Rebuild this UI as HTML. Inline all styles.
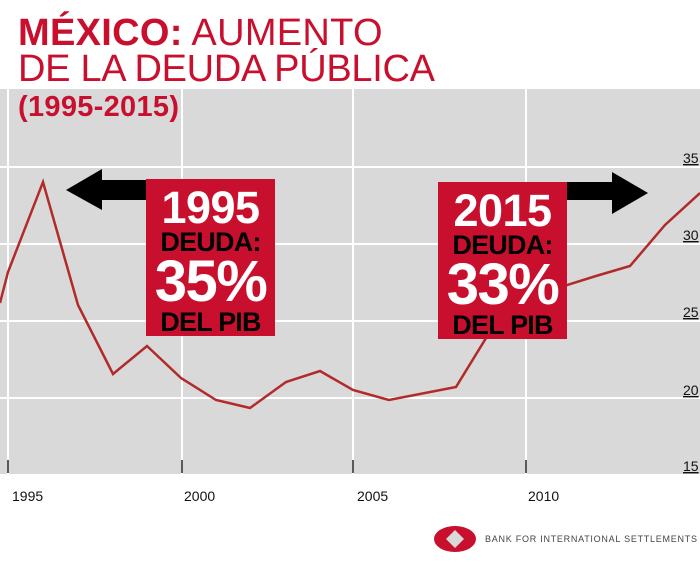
<!DOCTYPE html>
<html><head><meta charset="utf-8"><style>
body{margin:0;width:700px;height:573px;background:#fff;overflow:hidden;position:relative;font-family:"Liberation Sans",sans-serif}
.t{position:absolute;left:18px;color:#c8102e;white-space:nowrap}
.box{position:absolute;background:#c8102e;text-align:center;font-weight:bold;line-height:1}
</style></head><body>
<svg width="700" height="573" style="position:absolute;left:0;top:0">
<rect x="0" y="89" width="700" height="385" fill="#d9d9d9"/>
<g stroke="#fff" stroke-width="2">
<line x1="0" y1="167" x2="700" y2="167"/><line x1="0" y1="244" x2="700" y2="244"/>
<line x1="0" y1="321" x2="700" y2="321"/><line x1="0" y1="398" x2="700" y2="398"/>
<line x1="8" y1="89" x2="8" y2="474"/><line x1="182" y1="89" x2="182" y2="474"/>
<line x1="353" y1="89" x2="353" y2="474"/><line x1="526" y1="89" x2="526" y2="474"/>
</g>
<g stroke="#222" stroke-width="1.5">
<line x1="8" y1="460" x2="8" y2="473"/><line x1="182" y1="460" x2="182" y2="473"/>
<line x1="353" y1="460" x2="353" y2="473"/><line x1="526" y1="460" x2="526" y2="473"/>
</g>
<polyline fill="none" stroke="#b22a2a" stroke-width="2.5" points="0,303 8,272 43,182 78,305 113,374 147,346 181,378 216,400 250,408 286,382 320,371 353,390 389,400 456,387 491,330 526,300 567,285 596,276 630,266 665,225 700,193"/>
<polygon points="66,190 102,169 102,180 146,180 146,200 102,200 102,210" fill="#000"/>
<polygon points="648,193 612,172 612,182 567,182 567,200 612,200 612,214" fill="#000"/>
<g font-size="14" fill="#111" font-family="Liberation Sans, sans-serif">
<text x="12" y="501">1995</text><text x="184" y="501">2000</text><text x="357" y="501">2005</text><text x="528" y="501">2010</text>
<g text-decoration="underline"><text x="683" y="163">35</text><text x="683" y="240">30</text><text x="683" y="317">25</text><text x="683" y="395">20</text><text x="683" y="471">15</text></g>
</g>
<ellipse cx="455" cy="539" rx="21" ry="13" fill="#c8102e"/>
<polygon points="455,530 464,539 455,548 446,539" fill="#d9d9d9"/>
<text x="485" y="542" font-size="9" fill="#444" textLength="212" lengthAdjust="spacing">BANK FOR INTERNATIONAL SETTLEMENTS</text>
</svg>
<div class="t" style="top:12px;font-size:38px;letter-spacing:0.3px"><b>MÉXICO:</b> AUMENTO</div>
<div class="t" style="top:48px;font-size:38px;letter-spacing:-0.3px">DE LA DEUDA PÚBLICA</div>
<div class="t" style="top:91px;font-size:29px;font-weight:bold;letter-spacing:0.3px">(1995-2015)</div>
<div class="box" style="left:146px;top:179px;width:129px;height:157px">
<div style="color:#fff;font-size:45px;margin-top:6px;letter-spacing:-0.5px">1995</div>
<div style="color:#000;font-size:27px;margin-top:-1px;letter-spacing:-0.8px">DEUDA:</div>
<div style="color:#fff;font-size:58px;margin-top:-3px;letter-spacing:-1.5px">35%</div>
<div style="color:#000;font-size:27px;margin-top:-2px;letter-spacing:-0.8px">DEL PIB</div>
</div>
<div class="box" style="left:438px;top:182px;width:129px;height:157px">
<div style="color:#fff;font-size:45px;margin-top:6px;letter-spacing:-0.5px">2015</div>
<div style="color:#000;font-size:27px;margin-top:-1px;letter-spacing:-0.8px">DEUDA:</div>
<div style="color:#fff;font-size:58px;margin-top:-3px;letter-spacing:-1.5px">33%</div>
<div style="color:#000;font-size:27px;margin-top:-2px;letter-spacing:-0.8px">DEL PIB</div>
</div>
</body></html>
